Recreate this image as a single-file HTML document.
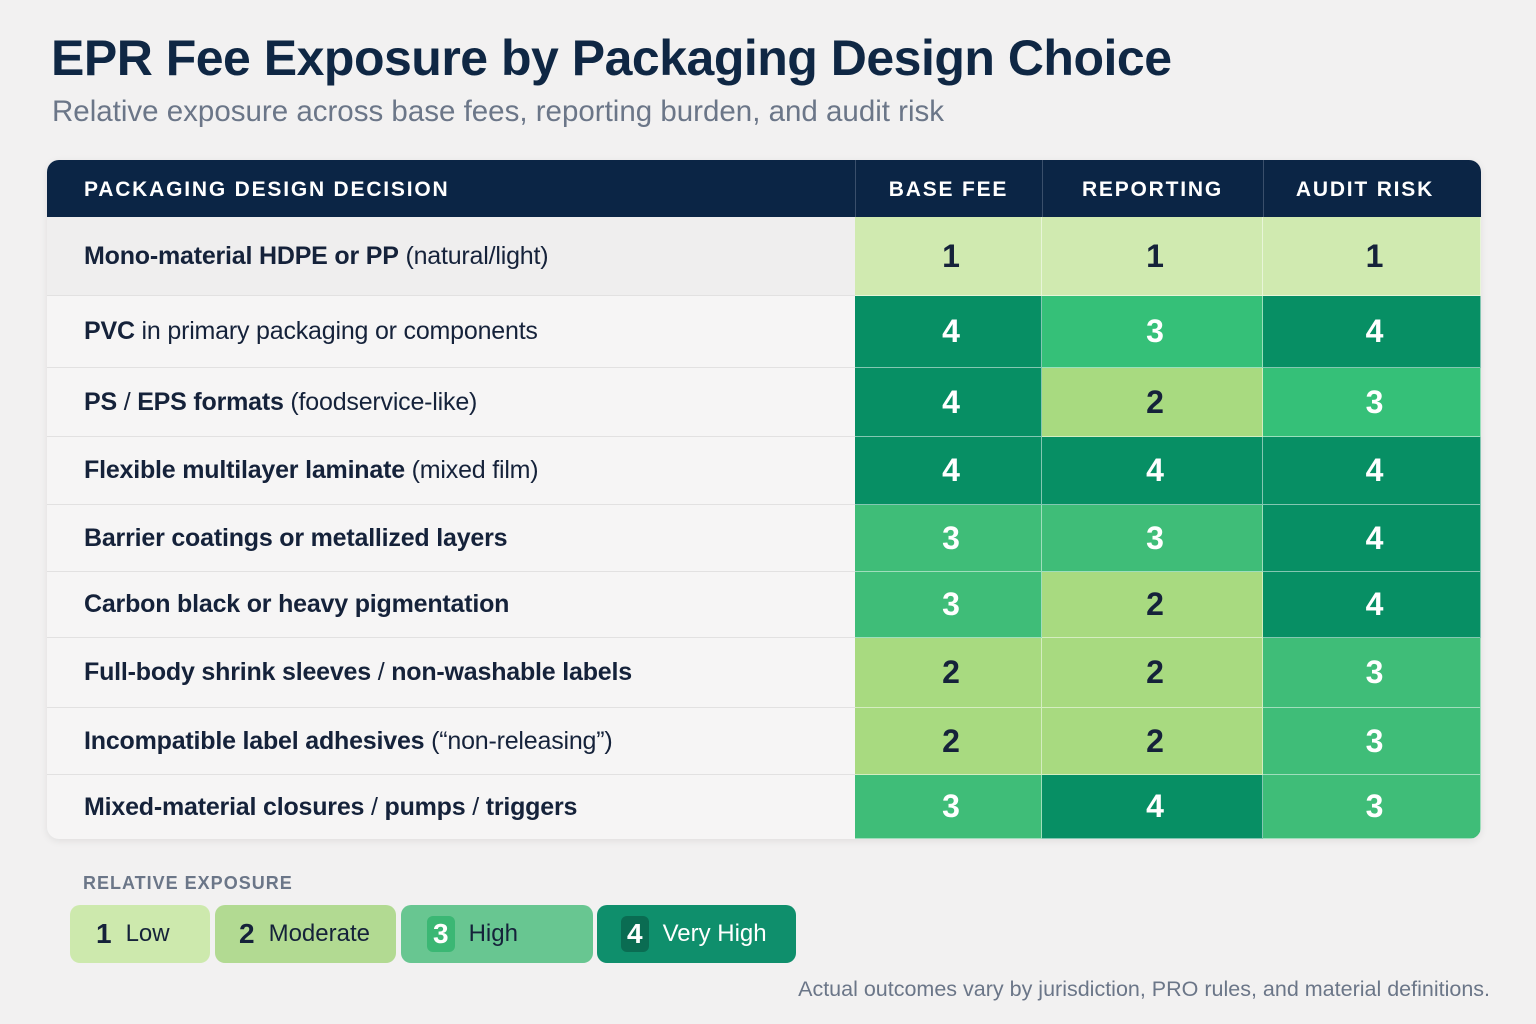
<!DOCTYPE html>
<html><head><meta charset="utf-8"><style>
*{margin:0;padding:0;box-sizing:border-box}
body{width:1536px;height:1024px;background:#f2f1f1;font-family:"Liberation Sans",sans-serif;position:relative;overflow:hidden;color:#15223a}
.t{position:absolute;left:51px;top:29px;font-size:50px;font-weight:700;color:#0f2744;letter-spacing:-0.5px}
.s{position:absolute;left:52px;top:95px;font-size:29.5px;color:#6b7688}
.tbl{position:absolute;left:47px;top:160px;width:1434px;height:679px;border-radius:12px;overflow:hidden;background:#f6f5f5;box-shadow:0 2px 8px rgba(0,0,0,.08)}
.hd{position:absolute;left:0;top:0;width:1434px;height:57px;background:#0b2545}
.h{position:absolute;top:0;height:57px;line-height:59px;color:#fff;font-weight:700;font-size:21px;letter-spacing:1.8px;text-align:center}
.vl{position:absolute;top:0;width:1px;height:57px;background:#3a4f6b}
.row{position:absolute;left:0;width:808px;border-bottom:1px solid #e2e1e1;font-size:25px;letter-spacing:-0.2px;padding-left:37px;display:flex;align-items:center}
.c{position:absolute;display:flex;align-items:center;justify-content:center;font-size:32px;font-weight:700;border-right:1px solid rgba(255,255,255,.5);border-bottom:1px solid rgba(255,255,255,.5);padding-left:6px}
.v1{background:#d0eab0;color:#15223a}.v2{background:#a8da80;color:#15223a}.v3{background:#3fbd78;color:#fff}.v4{background:#078f64;color:#fff}
.lt{position:absolute;left:83px;top:873px;font-size:18px;font-weight:700;color:#6b7688;letter-spacing:1px}
.lg{position:absolute;top:905px;height:58px;border-radius:10px;display:flex;align-items:center;font-size:24px}
.lg b{font-size:28px;margin-right:14px}
.foot{position:absolute;right:46px;top:977px;font-size:21.5px;color:#6b7688}
</style></head><body>
<div class="t">EPR Fee Exposure by Packaging Design Choice</div>
<div class="s">Relative exposure across base fees, reporting burden, and audit risk</div>
<div class="tbl">
<div class="hd">
<div class="h" style="left:37px;text-align:left">PACKAGING DESIGN DECISION</div>
<div class="h" style="left:808px;width:187px">BASE FEE</div>
<div class="h" style="left:995px;width:221px">REPORTING</div>
<div class="h" style="left:1216px;width:204px">AUDIT RISK</div>
<div class="vl" style="left:808px"></div><div class="vl" style="left:995px"></div><div class="vl" style="left:1216px"></div>
</div>
<div class="row" style="top:57px;height:79px;background:#efeeee"><span><b>Mono-material HDPE or PP</b> (natural/light)</span></div>
<div class="row" style="top:136px;height:72px"><span><b>PVC</b> in primary packaging or components</span></div>
<div class="row" style="top:208px;height:69px"><span><b>PS</b> / <b>EPS formats</b> (foodservice-like)</span></div>
<div class="row" style="top:277px;height:68px"><span><b>Flexible multilayer laminate</b> (mixed film)</span></div>
<div class="row" style="top:345px;height:67px"><span><b>Barrier coatings or metallized layers</b></span></div>
<div class="row" style="top:412px;height:66px"><span><b>Carbon black or heavy pigmentation</b></span></div>
<div class="row" style="top:478px;height:70px"><span><b>Full-body shrink sleeves</b> / <b>non-washable labels</b></span></div>
<div class="row" style="top:548px;height:67px"><span><b>Incompatible label adhesives</b> (“non-releasing”)</span></div>
<div class="row" style="top:615px;height:64px;border:none"><span><b>Mixed-material closures</b> / <b>pumps</b> / <b>triggers</b></span></div>
<div class="c v1" style="left:808px;top:57px;width:187px;height:79px">1</div><div class="c v1" style="left:995px;top:57px;width:221px;height:79px">1</div><div class="c v1" style="left:1216px;top:57px;width:218px;height:79px">1</div>
<div class="c v4" style="left:808px;top:136px;width:187px;height:72px">4</div><div class="c v3" style="left:995px;top:136px;width:221px;height:72px;background:#35c078">3</div><div class="c v4" style="left:1216px;top:136px;width:218px;height:72px">4</div>
<div class="c v4" style="left:808px;top:208px;width:187px;height:69px">4</div><div class="c v2" style="left:995px;top:208px;width:221px;height:69px">2</div><div class="c v3" style="left:1216px;top:208px;width:218px;height:69px;background:#35c078">3</div>
<div class="c v4" style="left:808px;top:277px;width:187px;height:68px">4</div><div class="c v4" style="left:995px;top:277px;width:221px;height:68px">4</div><div class="c v4" style="left:1216px;top:277px;width:218px;height:68px">4</div>
<div class="c v3" style="left:808px;top:345px;width:187px;height:67px">3</div><div class="c v3" style="left:995px;top:345px;width:221px;height:67px">3</div><div class="c v4" style="left:1216px;top:345px;width:218px;height:67px">4</div>
<div class="c v3" style="left:808px;top:412px;width:187px;height:66px">3</div><div class="c v2" style="left:995px;top:412px;width:221px;height:66px">2</div><div class="c v4" style="left:1216px;top:412px;width:218px;height:66px">4</div>
<div class="c v2" style="left:808px;top:478px;width:187px;height:70px">2</div><div class="c v2" style="left:995px;top:478px;width:221px;height:70px">2</div><div class="c v3" style="left:1216px;top:478px;width:218px;height:70px">3</div>
<div class="c v2" style="left:808px;top:548px;width:187px;height:67px">2</div><div class="c v2" style="left:995px;top:548px;width:221px;height:67px">2</div><div class="c v3" style="left:1216px;top:548px;width:218px;height:67px">3</div>
<div class="c v3" style="left:808px;top:615px;width:187px;height:64px">3</div><div class="c v4" style="left:995px;top:615px;width:221px;height:64px">4</div><div class="c v3" style="left:1216px;top:615px;width:218px;height:64px">3</div>
</div>
<div class="lt">RELATIVE EXPOSURE</div>
<div class="lg" style="left:70px;width:140px;background:#cde9ad;padding-left:26px;color:#15223a"><b>1</b>Low</div>
<div class="lg" style="left:215px;width:181px;background:#b2da92;padding-left:24px;color:#15223a"><b>2</b>Moderate</div>
<div class="lg" style="left:401px;width:192px;background:#68c691;padding-left:26px;color:#15223a"><b style="background:#3bb774;color:#fff;border-radius:6px;padding:2px 6px">3</b>High</div>
<div class="lg" style="left:597px;width:199px;background:#0f8f6c;padding-left:24px;color:#fff"><b style="background:#0a6c52;border-radius:6px;padding:2px 6px">4</b>Very High</div>
<div class="foot">Actual outcomes vary by jurisdiction, PRO rules, and material definitions.</div>
</body></html>
